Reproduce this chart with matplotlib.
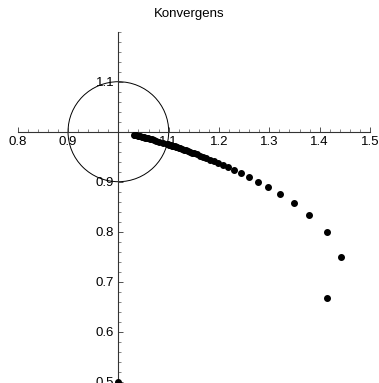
import matplotlib.pyplot as plt
from matplotlib.patches import Circle
from matplotlib.ticker import FixedLocator, MultipleLocator

plt.rcParams['font.family'] = ['Liberation Sans', 'DejaVu Sans']

# sequence points
x_vals = [1.0, 1.41421, 1.44225, 1.41421, 1.37973, 1.34801, 1.32047, 1.29684,
          1.27652, 1.25893, 1.24357, 1.23008, 1.21812, 1.20744, 1.19786, 1.18921,
          1.18135, 1.17418, 1.16762, 1.16159, 1.15601, 1.15085, 1.14605, 1.14159,
          1.13741, 1.13350, 1.12983, 1.12638, 1.12312, 1.12005, 1.11714, 1.11439,
          1.11177, 1.10929, 1.10692, 1.10466, 1.10251, 1.10046, 1.09849, 1.09660,
          1.08827, 1.08138, 1.07558, 1.07062, 1.06633, 1.06257, 1.05926, 1.05630,
          1.05366, 1.05127, 1.04910, 1.04713, 1.04366, 1.04070, 1.03815, 1.03593,
          1.03397, 1.03223, 1.03067]
y_vals = [0.5, 0.6667, 0.75, 0.8, 0.8333, 0.8571, 0.875, 0.8889,
          0.9, 0.9091, 0.9167, 0.9231, 0.9286, 0.9333, 0.9375, 0.9412,
          0.9444, 0.9474, 0.95, 0.9524, 0.9545, 0.9565, 0.9583, 0.96,
          0.9615, 0.9630, 0.9643, 0.9655, 0.9667, 0.9677, 0.9688, 0.9697,
          0.9706, 0.9714, 0.9722, 0.9730, 0.9737, 0.9744, 0.975, 0.9756,
          0.9783, 0.9804, 0.9821, 0.9836, 0.9848, 0.9859, 0.9868, 0.9877,
          0.9884, 0.9890, 0.9896, 0.9901, 0.9910, 0.9917, 0.9924, 0.9929,
          0.9934, 0.9938, 0.9942]

x_ticks = [0.8, 0.9, 1.1, 1.2, 1.3, 1.4, 1.5]
x_labels = ["0.8", "0.9", "1.1", "1.2", "1.3", "1.4", "1.5"]
y_ticks = [0.5, 0.6, 0.7, 0.8, 0.9, 1.1]
y_labels = ["0.5", "0.6", "0.7", "0.8", "0.9", "1.1"]

fig = plt.figure(figsize=(3.79, 3.83), dpi=100)
ax = fig.add_axes([0.0467, 0.0034, 0.9296, 0.9138])
ax.set_xlim(0.8, 1.5)
ax.set_ylim(0.5, 1.2)

# axes crossing at (1, 1)
ax.spines['left'].set_position(('data', 1))
ax.spines['bottom'].set_position(('data', 1))
ax.spines['right'].set_visible(False)
ax.spines['top'].set_visible(False)
for s in ['left', 'bottom']:
    ax.spines[s].set_linewidth(0.8)
    ax.spines[s].set_color('#333333')

ax.xaxis.set_major_locator(FixedLocator(x_ticks))
ax.set_xticklabels(x_labels)
ax.yaxis.set_major_locator(FixedLocator(y_ticks))
ax.set_yticklabels(y_labels)
ax.xaxis.set_minor_locator(MultipleLocator(0.02))
ax.yaxis.set_minor_locator(MultipleLocator(0.02))
ax.tick_params(which='major', direction='in', length=3.5, width=0.6,
               labelsize=9.5, pad=3, color='#333333')
ax.tick_params(which='minor', direction='in', length=2, width=0.5, color='#555555')

circ = Circle((1, 1), 0.1, fill=False, edgecolor='black', linewidth=0.7)
ax.add_patch(circ)

ax.plot(x_vals, y_vals, 'o', color='black', markersize=4, clip_on=False, zorder=5)

fig.text(0.5, 0.963, "Konvergens", ha='center', va='center', fontsize=9.5)

fig.savefig("out.png", dpi=100)
